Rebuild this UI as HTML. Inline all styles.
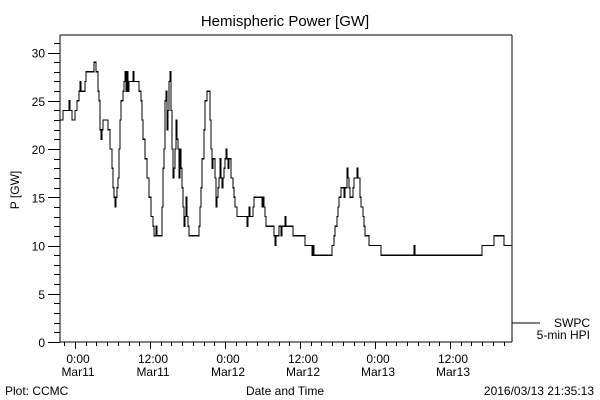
<!DOCTYPE html>
<html><head><meta charset="utf-8"><style>
body{margin:0;background:#fff}
svg{display:block;font-family:"Liberation Sans",sans-serif}
</style></head><body>
<svg width="600" height="400" viewBox="0 0 600 400" id="chart">
<rect width="600" height="400" fill="#fff"/>
<text x="285" y="26" font-size="15" text-anchor="middle">Hemispheric Power [GW]</text>
<text transform="translate(19,190) rotate(-90)" font-size="12" text-anchor="middle">P [GW]</text>
<text x="285" y="395" font-size="12" text-anchor="middle">Date and Time</text>
<text x="5" y="395" font-size="12">Plot: CCMC</text>
<text x="594" y="395" font-size="12" text-anchor="end">2016/03/13 21:35:13</text>
<g id="axes" shape-rendering="crispEdges"></g>
<path id="series" fill="none" stroke="#000" stroke-width="1.3" shape-rendering="crispEdges"/>
<line x1="512" y1="323" x2="540" y2="323" stroke="#000" shape-rendering="crispEdges"/>
<text x="590" y="327" font-size="12" text-anchor="end">SWPC</text>
<text x="590" y="339" font-size="12" text-anchor="end">5-min HPI</text>
</svg>
<script>
const times=[-2.4,-1.92,-0.96,-0.8,-0.48,0,0.32,0.64,0.8,0.96,1.6,1.76,3.04,3.36,3.68,3.84,4,4.16,4.32,4.48,5.28,5.6,5.92,6.08,6.24,6.4,6.56,6.72,6.88,7.04,7.2,7.36,7.68,7.84,8,8.16,8.32,8.48,8.64,9.28,9.44,10.24,10.56,10.72,10.88,11.2,11.52,11.84,12.16,12.48,12.64,12.96,13.12,13.92,14.08,14.24,14.4,14.56,14.72,14.88,15.04,15.2,15.36,15.52,15.68,15.84,16,16.16,16.32,16.48,16.64,16.8,16.96,17.12,17.28,17.44,17.6,17.76,17.92,18.08,18.24,19.84,20,20.16,20.32,20.64,20.8,21.12,21.6,21.76,21.92,22.08,22.4,22.56,22.72,22.88,23.04,23.2,23.36,23.52,23.68,23.84,24,24.16,24.32,24.48,24.64,24.96,25.28,25.44,25.6,25.92,27.52,27.68,27.84,28,28.48,28.64,29.92,30.08,30.24,30.4,30.56,31.84,32,32.16,32.64,32.96,33.12,33.6,33.76,34.88,36.8,37.92,38.08,38.24,41.12,41.44,41.6,41.92,42.08,42.24,42.56,43.04,43.2,43.52,43.68,43.84,44,44.48,44.64,45.12,45.28,45.6,45.76,46.08,46.24,46.4,47.04,48.96,54.24,54.4,65.12,67.04,68.64];
const power=[23,24,25,24,23,24,25,26,27,26,27,28,29,28,26,25,22,21,22,23,22,20,18,16,15,14,15,16,17,20,23,25,26,27,28,26,28,26,27,28,27,26,25,23,21,19,17,15,13,12,11,12,11,14,18,20,25,26,22,24,27,28,24,20,17,18,20,23,21,20,17,20,18,16,14,12,13,15,13,12,11,12,14,16,19,22,25,26,23,20,18,19,17,14,15,16,17,19,17,16,17,18,19,20,19,18,19,17,16,15,14,13,12,13,14,13,14,15,14,15,14,13,12,11,10,11,12,11,12,13,12,11,10,9,10,9,10,11,12,13,14,15,16,15,16,18,17,16,15,16,17,18,17,15,14,13,12,11,10,9,10,9,10,11,10];
const yTicks=[0,5,10,15,20,25,30];
const xTickHours=[0,12,24,36,48,60];
const xTickTimes=["0:00","12:00","0:00","12:00","0:00","12:00"];
const xTickDates=["Mar11","Mar11","Mar12","Mar12","Mar13","Mar13"];
const tEnd=69.92;

const L=60,R=512,T=35,B=342;
const xs=t=>75+t*6.25;
const ys=v=>B-v*9.65;
const NS="http://www.w3.org/2000/svg";
const ax=document.getElementById('axes');
function ln(x1,y1,x2,y2,name){const l=document.createElementNS(NS,'line');l.setAttribute('x1',x1);l.setAttribute('y1',y1);l.setAttribute('x2',x2);l.setAttribute('y2',y2);l.setAttribute('stroke','#000');


ax.appendChild(l);return l;}
function tx(x,y,s,anchor,name){const t=document.createElementNS(NS,'text');t.setAttribute('x',x);t.setAttribute('y',y);t.setAttribute('font-size','12');t.setAttribute('text-anchor',anchor);t.textContent=s;


ax.appendChild(t);}
ln(L,T,R,T,'plot-frame-top');ln(L,T,L,B,'y-axis-line');ln(L,B,R,B,'x-axis-line');ln(R,T,R,B,'plot-frame-right');
for(let v=0;v<=31;v++){const y=Math.round(ys(v))+0.5;const major=v%5===0;ln(major?48:54,y,L,y,'y-tick');}
yTicks.forEach(v=>tx(45,ys(v)+5,String(v),'end','y-tick-label'));
const step=12/7;
for(let t=-step;xs(t)<R;t+=step){if(xs(t)<L)continue;const x=Math.round(xs(t))+0.5;ln(x,B,x,B+4,'x-tick');}
xTickHours.forEach((h,i)=>{const x=Math.round(xs(h))+0.5;ln(x,B,x,B+7,'x-major-tick');tx(xs(h)+3,363,xTickTimes[i],'middle','x-tick-time');tx(xs(h)+3,376,xTickDates[i],'middle','x-tick-date');});
let d='';
for(let i=0;i<times.length;i++){const x=xs(Math.max(times[i],-2.4)),y=ys(power[i]);d+=(i===0?'M'+x+' '+y:'V'+y);const nx=i+1<times.length?xs(times[i+1]):xs(tEnd);d+='H'+nx;}
document.getElementById('series').setAttribute('d',d);
</script>
</body></html>
